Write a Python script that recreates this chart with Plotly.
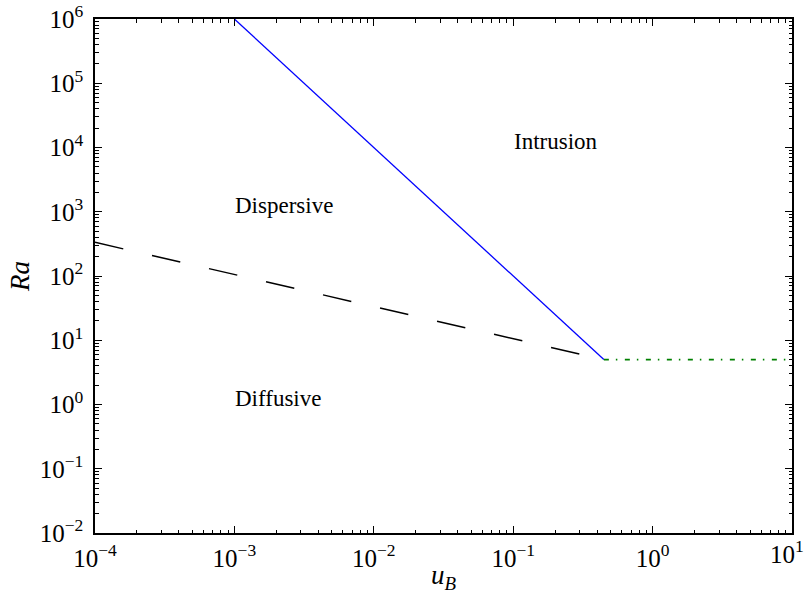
import math
import plotly.graph_objects as go

# Regime boundaries (u_B, Ra)
blue_u = [1e-3, 0.447]
blue_ra = [1e6, 5.0]
dash_u = [1e-4, 0.447]
dash_ra = [334.0, 5.0]
green_u = [0.447, 10.0]
green_ra = [5.0, 5.0]

label_text = ["Intrusion", "Dispersive", "Diffusive"]
label_u = [0.1, 1e-3, 1e-3]
label_ra = [1e4, 1e3, 1.0]

x_decades = [-4, -3, -2, -1, 0, 1]
y_decades = [-2, -1, 0, 1, 2, 3, 4, 5, 6]

FONT = "'Liberation Serif', 'DejaVu Serif', 'Times New Roman', serif"

def pow_label(e):
    return "10<sup>%s</sup>" % (("\u2212%d" % -e) if e < 0 else str(e))

def minor_vals(decs):
    out = []
    for d in decs[:-1]:
        for m in range(2, 10):
            out.append(m * 10 ** d)
    return out

fig = go.Figure()
fig.add_trace(go.Scatter(x=blue_u, y=blue_ra, mode="lines",
                         line=dict(color="#0000ff", width=1.3), showlegend=False))
fig.add_trace(go.Scatter(x=dash_u, y=dash_ra, mode="lines",
                         line=dict(color="black", width=1.5, dash="29px,29.5px"), showlegend=False))
fig.add_trace(go.Scatter(x=green_u, y=green_ra, mode="lines",
                         line=dict(color="#008000", width=1.6, dash="5px,7px,1.5px,7.5px"), showlegend=False))
# invisible trace to anchor the minor-tick axes
fig.add_trace(go.Scatter(x=[1e-4], y=[1e-2], xaxis="x2", yaxis="y2", mode="markers",
                         marker=dict(opacity=0), showlegend=False, hoverinfo="skip"))

for t, u, r in zip(label_text, label_u, label_ra):
    fig.add_annotation(x=math.log10(u), y=math.log10(r), text=t,
                       showarrow=False, xanchor="left", yanchor="bottom",
                       xshift=-1, yshift=-8,
                       font=dict(family=FONT, size=23, color="black"))

# last x tick label placed so it stays inside the page
x_ticktext = [pow_label(e) for e in x_decades]
x_ticktext[-1] = ""
fig.add_annotation(x=x_decades[-1], xref="x", y=0, yref="paper",
                   text=pow_label(x_decades[-1]), showarrow=False,
                   xanchor="right", yanchor="top", xshift=14, yshift=-1,
                   font=dict(family=FONT, size=25, color="black"))

axis_common = dict(
    type="log", showgrid=False, zeroline=False, automargin=False,
    showline=True, linecolor="black", linewidth=1.5, mirror="allticks",
    ticks="inside", ticklen=7, tickwidth=1.2, tickcolor="black",
    tickmode="array", ticklabeloverflow="allow",
    tickfont=dict(family=FONT, size=25, color="black"),
)

fig.update_layout(
    xaxis=dict(range=[-4, 1], tickvals=[10 ** e for e in x_decades],
               ticktext=x_ticktext,
               title=dict(text="<i>u<sub>B</sub></i>",
                          font=dict(family=FONT, size=27, color="black"), standoff=2),
               ticklabelstandoff=2, **axis_common),
    yaxis=dict(range=[-2, 6], tickvals=[10 ** e for e in y_decades],
               ticktext=[pow_label(e) for e in y_decades],
               title=dict(text="<i>Ra</i>",
                          font=dict(family=FONT, size=27, color="black"), standoff=2),
               ticklabelstandoff=5, **axis_common),
    xaxis2=dict(type="log", range=[-4, 1], overlaying="x", anchor="y2",
                tickmode="array", tickvals=minor_vals(x_decades),
                showticklabels=False, ticks="inside", ticklen=3.5, tickwidth=1,
                tickcolor="black", mirror="allticks", showline=False,
                showgrid=False, zeroline=False, automargin=False),
    yaxis2=dict(type="log", range=[-2, 6], overlaying="y", anchor="x2",
                tickmode="array", tickvals=minor_vals(y_decades),
                showticklabels=False, ticks="inside", ticklen=3.5, tickwidth=1,
                tickcolor="black", mirror="allticks", showline=False,
                showgrid=False, zeroline=False, automargin=False),
    width=807, height=594,
    margin=dict(l=95, r=15, t=19, b=61),
    plot_bgcolor="white", paper_bgcolor="white",
)

fig.write_html("out.html")
